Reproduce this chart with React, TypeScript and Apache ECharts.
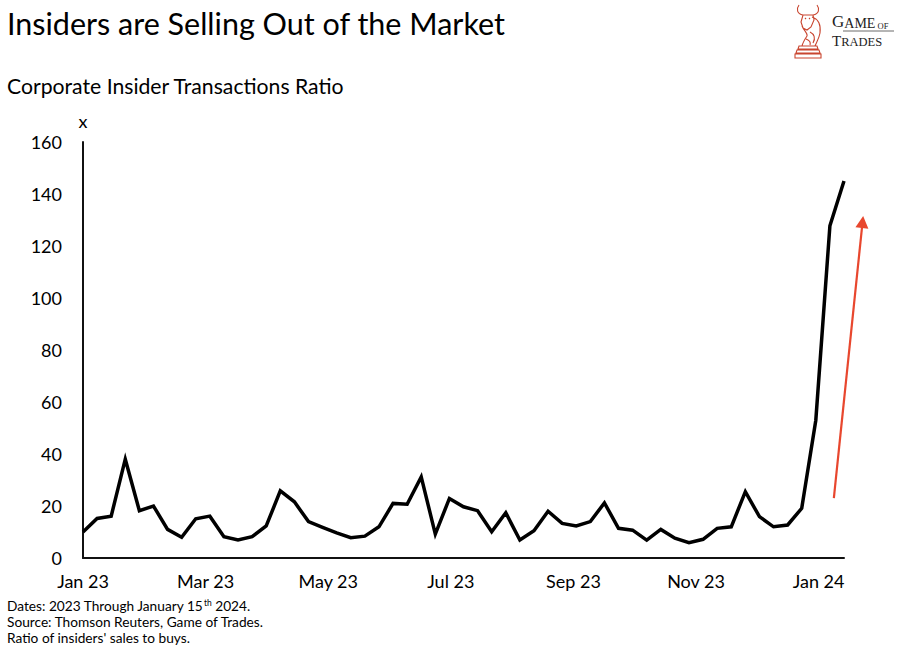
import React, { useEffect, useRef } from "react";
import * as echarts from "echarts";

const TITLE = "Insiders are Selling Out of the Market";
const SUBTITLE = "Corporate Insider Transactions Ratio";
const Y_UNIT = "x";

// weekly observations, 2 Jan 2023 .. 15 Jan 2024 (x = week number)
const X_TICK_LABELS = ["Jan 23", "Mar 23", "May 23", "Jul 23", "Sep 23", "Nov 23", "Jan 24"];
const X_TICK_STEP_WEEKS = 8.7;
const WEEKS_TOTAL = 54;

const Y_MIN = 0;
const Y_MAX = 160;
const Y_STEP = 20;

const RATIO = [
  10, 15.2, 16.1, 38, 18.2, 20, 11, 8, 15.1, 16.1,
  8.2, 6.9, 8.2, 12.3, 25.8, 21.6, 14, 11.8, 9.7, 7.8,
  8.4, 12, 21, 20.7, 31.2, 9.2, 22.9, 19.7, 18.2, 10.1,
  17.4, 6.9, 10.5, 18, 13.3, 12.3, 14, 21.2, 11.4, 10.7,
  6.9, 11, 7.6, 5.9, 7.2, 11.4, 12, 25.5, 15.9, 12,
  12.7, 19.1, 53, 127.8, 145,
];

// annotation arrow in data space [week, ratio]
const ARROW_FROM = [53.28, 23];
const ARROW_TO = [55.36, 131.5];

const NOTE_LINE_1 = ["Dates: 2023 Through January 15", "th", " 2024."];
const NOTE_LINE_2 = "Source: Thomson Reuters, Game of Trades.";
const NOTE_LINE_3 = "Ratio of insiders' sales to buys.";

const KNIGHT_PATH =
  "M6 2 C3 6 4 11 10 12 M24 2 C27 6 26 11 20 12 " +
  "M10 12 L20 12 L21 17 L18 24 L14 27 L10 25 L8 19 Z " +
  "M12 15 L13 16 M17 15 L16 16 " +
  "M19 14 C25 16 28 22 27 30 C26 36 23 40 22 43 " +
  "M9 23 C11 28 15 30 14 33 C12 36 10 39 9 43 " +
  "M17 29 C21 31 23 35 20 40 M13 36 C16 37 18 39 17 42 " +
  "M6 43 L24 43 L25 46 L5 46 Z M4 47 L26 47 L27 50 L3 50 Z M2 51 L28 51 L28 55 L2 55 Z";

let shapeRegistered = false;
function ensureShape() {
  if (!shapeRegistered) {
    echarts.graphic.registerShape("gotKnight", echarts.graphic.extendPath(KNIGHT_PATH, {}) as any);
    shapeRegistered = true;
  }
}

const FONT = "Lato, 'Noto Sans', sans-serif";
const SERIF = "'Liberation Serif', 'DejaVu Serif', serif";

// rich-token style whose baseline sits a fixed distance above the line bottom
function logoTok(fs: number, raise = 0) {
  return {
    fontSize: fs,
    lineHeight: 0.675 * fs + 6 + raise,
    fontFamily: SERIF,
    fill: "#222",
    verticalAlign: "bottom",
  };
}

export default function App() {
  const ref = useRef<HTMLDivElement>(null);

  useEffect(() => {
    ensureShape();
    const chart = echarts.init(ref.current as HTMLDivElement, null, { renderer: "svg" });

    chart.setOption({
      animation: false,
      backgroundColor: "#ffffff",
      grid: { left: 83, right: 56, top: 142, bottom: 88, containLabel: false },
      xAxis: {
        type: "value",
        min: 0,
        max: WEEKS_TOTAL,
        interval: X_TICK_STEP_WEEKS,
        axisLine: { show: true, onZero: false, lineStyle: { color: "#111", width: 2 } },
        axisTick: { show: false },
        splitLine: { show: false },
        axisLabel: {
          margin: 14,
          fontSize: 18,
          color: "#000",
          fontFamily: FONT,
          formatter: (v: number) => {
            const k = Math.round(v / X_TICK_STEP_WEEKS);
            return Math.abs(v - k * X_TICK_STEP_WEEKS) < 0.05 && k < X_TICK_LABELS.length
              ? X_TICK_LABELS[k]
              : "";
          },
        },
      },
      yAxis: {
        type: "value",
        min: Y_MIN,
        max: Y_MAX,
        interval: Y_STEP,
        name: Y_UNIT,
        nameLocation: "end",
        nameGap: 12,
        nameTextStyle: { fontSize: 18, color: "#000", fontFamily: FONT, align: "center", verticalAlign: "bottom" },
        axisLine: { show: true, lineStyle: { color: "#111", width: 2 } },
        axisTick: { show: false },
        splitLine: { show: false },
        axisLabel: { margin: 21, fontSize: 18, color: "#000", fontFamily: FONT },
      },
      series: [
        {
          type: "line",
          data: RATIO.map((v, i) => [i, v]),
          symbol: "none",
          silent: true,
          lineStyle: { color: "#000", width: 3.5, join: "miter", miterLimit: 6 },
        },
      ],
    });

    const p0 = chart.convertToPixel({ gridIndex: 0 }, ARROW_FROM) as number[];
    const p1 = chart.convertToPixel({ gridIndex: 0 }, ARROW_TO) as number[];
    const dx = p1[0] - p0[0];
    const dy = p1[1] - p0[1];
    const len = Math.sqrt(dx * dx + dy * dy);
    const ux = dx / len;
    const uy = dy / len;
    const headLen = 12;
    const headW = 13;
    const bx = p1[0] - ux * headLen;
    const by = p1[1] - uy * headLen;
    const px = -uy;
    const py = ux;
    const RED = "#E8472E";

    chart.setOption({
      graphic: {
        elements: [
          {
            type: "text",
            x: 7,
            y: 7,
            style: { text: TITLE, fontSize: 30.5, fontFamily: FONT, fill: "#000", align: "left", verticalAlign: "top" },
          },
          {
            type: "text",
            x: 7,
            y: 75,
            style: { text: SUBTITLE, fontSize: 21.2, fontFamily: FONT, fill: "#000", align: "left", verticalAlign: "top" },
          },
          {
            type: "text",
            x: 7,
            y: 598,
            style: {
              text: `{n|${NOTE_LINE_1[0]}}{sup|${NOTE_LINE_1[1]}}{n|${NOTE_LINE_1[2]}}`,
              align: "left",
              verticalAlign: "top",
              rich: {
                n: { fontSize: 13.7, lineHeight: 15, fontFamily: FONT, fill: "#000" },
                sup: { fontSize: 8.5, lineHeight: 10, fontFamily: FONT, fill: "#000", verticalAlign: "top" },
              },
            },
          },
          {
            type: "text",
            x: 7,
            y: 614,
            style: { text: NOTE_LINE_2, fontSize: 13.7, lineHeight: 15, fontFamily: FONT, fill: "#000", align: "left", verticalAlign: "top" },
          },
          {
            type: "text",
            x: 7,
            y: 630,
            style: { text: NOTE_LINE_3, fontSize: 13.7, lineHeight: 15, fontFamily: FONT, fill: "#000", align: "left", verticalAlign: "top" },
          },
          // logo
          {
            type: "gotKnight",
            x: 793,
            y: 3,
            style: { fill: "none", stroke: "#C9452F", lineWidth: 1.1 },
          },
          {
            type: "text",
            x: 832,
            y: 30,
            style: {
              text: "{g|G}{a|AME}{o| OF}",
              align: "left",
              verticalAlign: "bottom",
              rich: { g: logoTok(17), a: logoTok(14), o: logoTok(8.5, 4) },
            },
          },
          {
            type: "text",
            x: 832,
            y: 48,
            style: {
              text: "{g|T}{a|RADES}",
              align: "left",
              verticalAlign: "bottom",
              rich: { g: logoTok(15), a: logoTok(12.5) },
            },
          },
          {
            type: "line",
            shape: { x1: 843, y1: 31, x2: 894, y2: 31 },
            style: { stroke: "#444", lineWidth: 0.8 },
          },
          // arrow
          {
            type: "line",
            shape: { x1: p0[0], y1: p0[1], x2: bx + ux * 1, y2: by + uy * 1 },
            style: { stroke: RED, lineWidth: 2.2 },
          },
          {
            type: "polygon",
            shape: {
              points: [
                [p1[0], p1[1]],
                [bx + (px * headW) / 2, by + (py * headW) / 2],
                [bx - (px * headW) / 2, by - (py * headW) / 2],
              ],
            },
            style: { fill: RED },
          },
        ],
      },
    });

    return () => {
      chart.dispose();
    };
  }, []);

  return (
    <div
      ref={ref}
      style={{ position: "fixed", left: 0, top: 0, width: 900, height: 646, background: "#fff" }}
    />
  );
}
